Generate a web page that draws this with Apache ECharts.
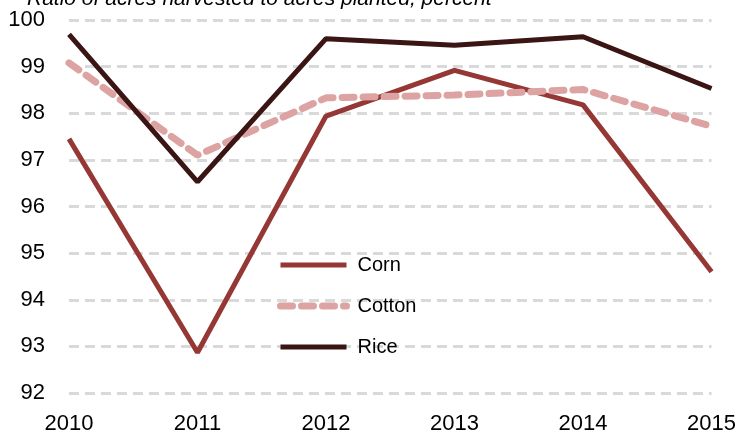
<!DOCTYPE html>
<html>
<head>
<meta charset="utf-8">
<script src="https://cdn.jsdelivr.net/npm/echarts@6/dist/echarts.min.js"></script>
<style>
  html, body { margin: 0; padding: 0; background: #fff; }
  #chart { width: 739px; height: 435px; }
</style>
</head>
<body>
<div id="chart"></div>
<script>
// Ratio of acres harvested to acres planted, percent
var years = ['2010', '2011', '2012', '2013', '2014', '2015'];
var corn = [97.45, 92.87, 97.94, 98.92, 98.18, 94.6];
var cotton = [99.08, 97.1, 98.33, 98.39, 98.51, 97.72];
var rice = [99.69, 96.53, 99.6, 99.46, 99.64, 98.53];

var font = '"Liberation Sans", sans-serif';

var chart = echarts.init(document.getElementById('chart'));

chart.setOption({
    animation: false,
    textStyle: { fontFamily: font },
    grid: { left: 69, right: 27, top: 20, bottom: 39 },
    graphic: [{
        type: 'text',
        left: 27,
        top: -11,
        style: {
            text: 'Ratio of acres harvested to acres planted, percent',
            font: 'italic 21px ' + font,
            fill: '#000'
        }
    }],
    legend: {
        orient: 'vertical',
        left: 277,
        top: 255,
        padding: 0,
        itemWidth: 66,
        itemHeight: 14,
        itemGap: 21,
        itemStyle: { opacity: 0 },
        lineStyle: { width: 'inherit' },
        textStyle: { fontSize: 20, color: '#000', padding: [0, 0, 0, 6] },
        data: ['Corn', 'Cotton', 'Rice']
    },
    xAxis: {
        type: 'category',
        data: years,
        boundaryGap: false,
        axisLine: { show: false },
        axisTick: { show: false },
        axisLabel: { fontSize: 22, color: '#000', margin: 20 }
    },
    yAxis: {
        type: 'value',
        min: 92,
        max: 100,
        interval: 1,
        axisLine: { show: false },
        axisTick: { show: false },
        axisLabel: { fontSize: 22, color: '#000', margin: 24 },
        splitLine: {
            lineStyle: { color: '#d9d9d9', width: 3, type: [10, 6] }
        }
    },
    series: [{
        name: 'Corn',
        type: 'line',
        data: corn,
        symbol: 'none',
        lineStyle: { color: '#953735', width: 5 },
        itemStyle: { color: '#953735' }
    }, {
        name: 'Cotton',
        type: 'line',
        data: cotton,
        symbol: 'none',
        lineStyle: { color: '#dda3a3', width: 7, type: [12, 9], cap: 'round' },
        itemStyle: { color: '#dda3a3' }
    }, {
        name: 'Rice',
        type: 'line',
        data: rice,
        symbol: 'none',
        z: 3,
        lineStyle: { color: '#3b1414', width: 5 },
        itemStyle: { color: '#3b1414' }
    }]
});
</script>
</body>
</html>
